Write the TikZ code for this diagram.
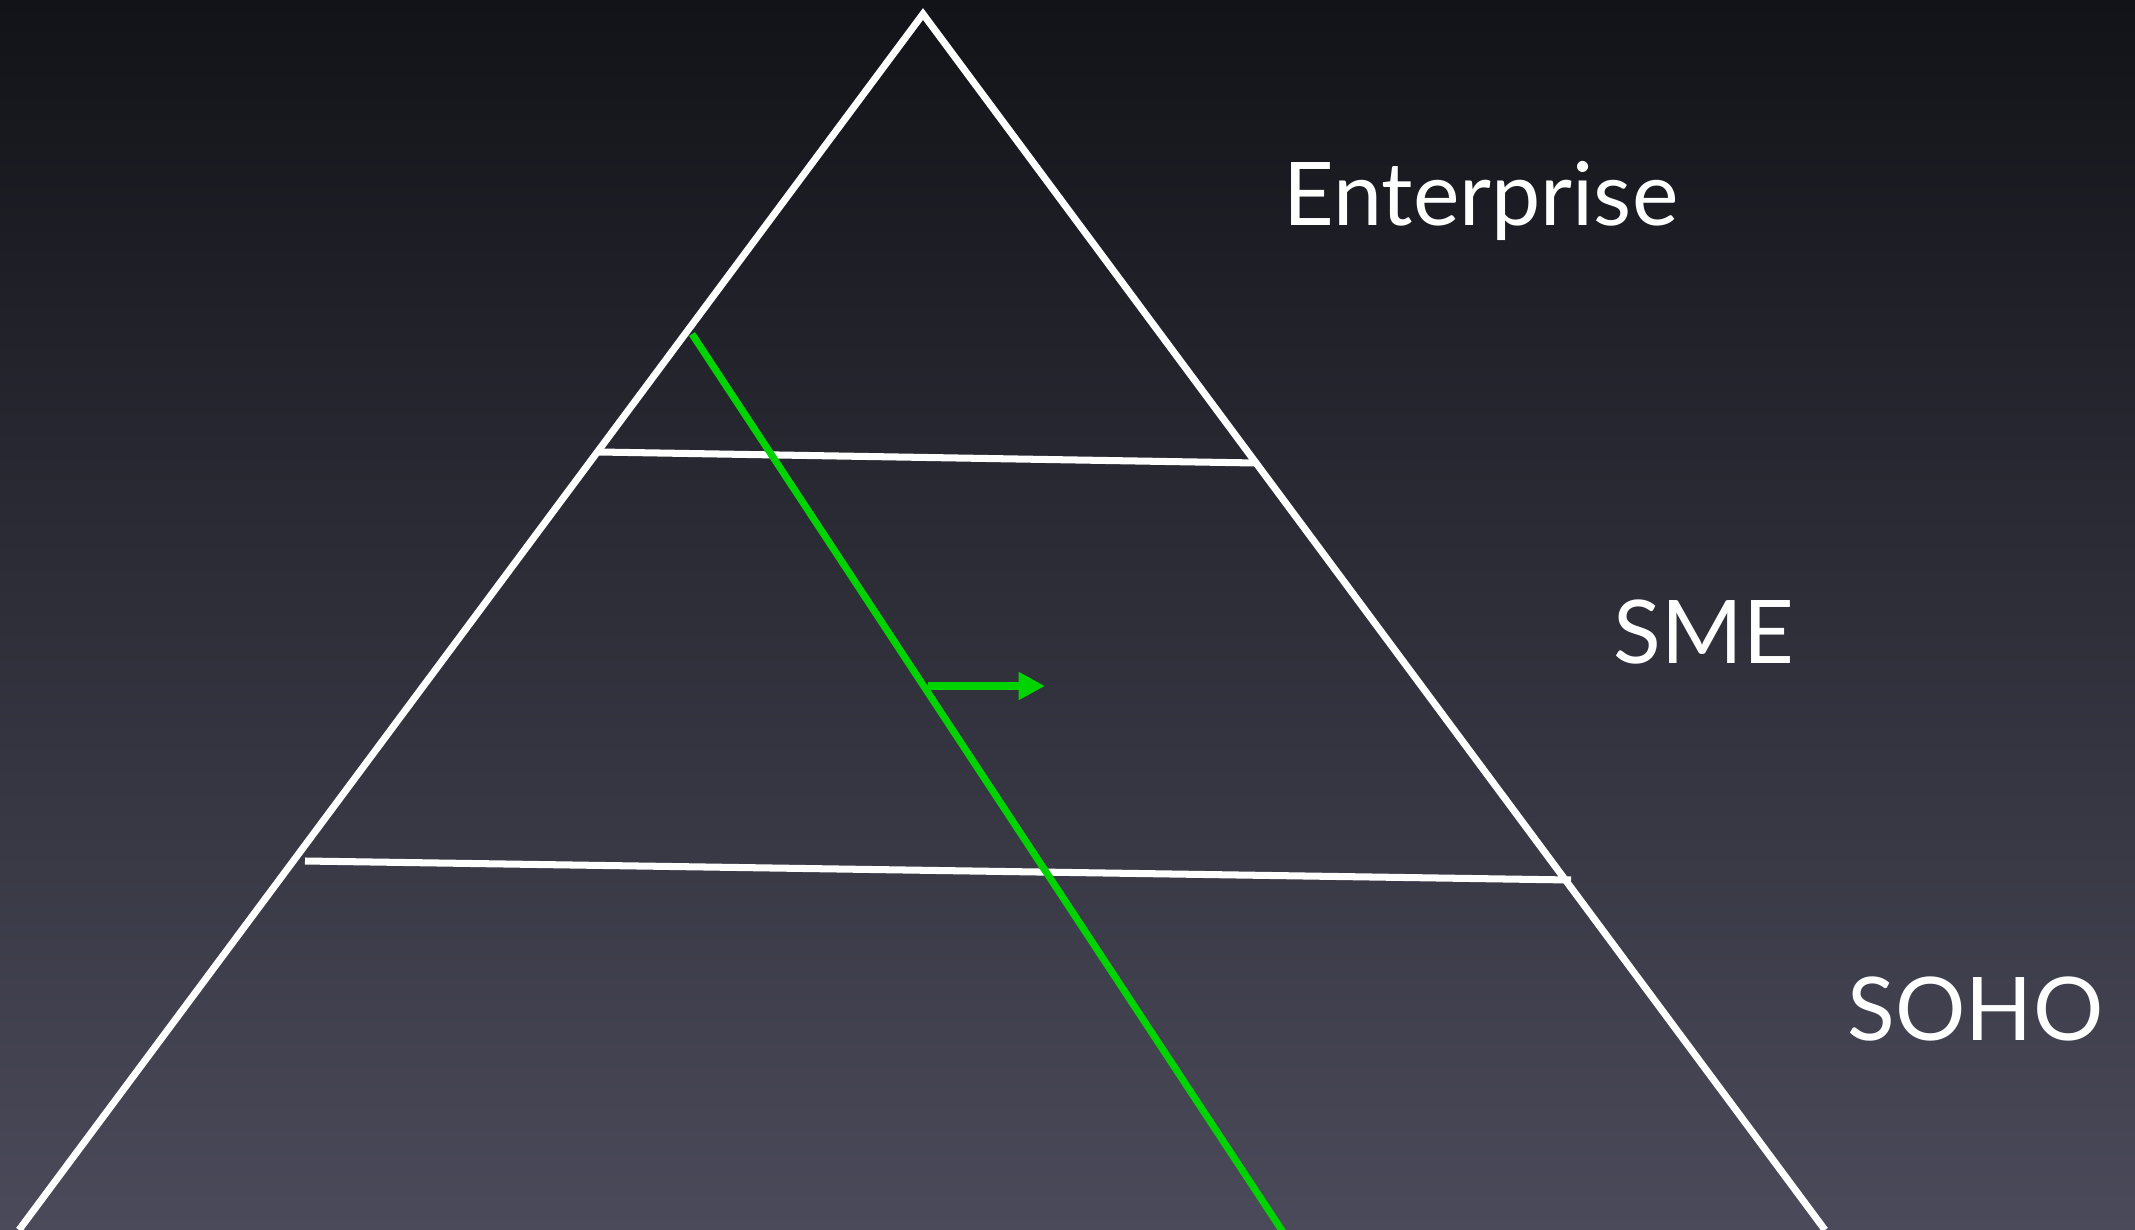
\documentclass[tikz,border=0pt]{standalone}
\usepackage{fontspec}
\setmainfont{Lato}
\usepackage{tikz}
\usetikzlibrary{arrows.meta}

\definecolor{bgtop}{HTML}{121318}
\definecolor{bgbottom}{HTML}{4A4A5A}
\definecolor{trendgreen}{HTML}{00D400}

\begin{document}
\begin{tikzpicture}[
    x=0.01cm, y=-0.01cm,
    edge/.style={draw=white, line width=2pt, line join=miter},
    divider/.style={draw=white, line width=2pt},
    trend/.style={draw=trendgreen, line width=2pt},
    segment/.style={
        text=white,
        font=\fontsize{25}{30}\selectfont,
        inner sep=0pt,
        anchor=base west
    }
]

\shade[top color=bgtop, bottom color=bgbottom] (0,0) rectangle (2135,1230);
\useasboundingbox (0,0) rectangle (2135,1230);

\coordinate (apex) at (923,14);
\coordinate (baseleft) at (19,1230);
\coordinate (baseright) at (1825,1230);

\coordinate (upperleft) at (599,452);
\coordinate (upperright) at (1256,463);
\coordinate (lowerleft) at (305,861);
\coordinate (lowerright) at (1571,880);

\coordinate (trendtop) at (692,334);
\coordinate (trendbottom) at (1283,1232);
\coordinate (shiftstart) at (928,686);
\coordinate (shiftend) at (1045,686);

\node[segment] (enterprise) at (1283,225) {Enterprise};
\node[segment] (sme) at (1613,663) {SME};
\node[segment] (soho) at (1847,1040) {SOHO};

\draw[edge] (baseleft) -- (apex) -- (baseright);
\draw[divider] (upperleft) -- (upperright);
\draw[divider] (lowerleft) -- (lowerright);

\draw[trend] (trendtop) -- (trendbottom);
\draw[trend, -{Triangle[length=7.5pt, width=7.5pt]}] (shiftstart) -- (shiftend);

\end{tikzpicture}
\end{document}
